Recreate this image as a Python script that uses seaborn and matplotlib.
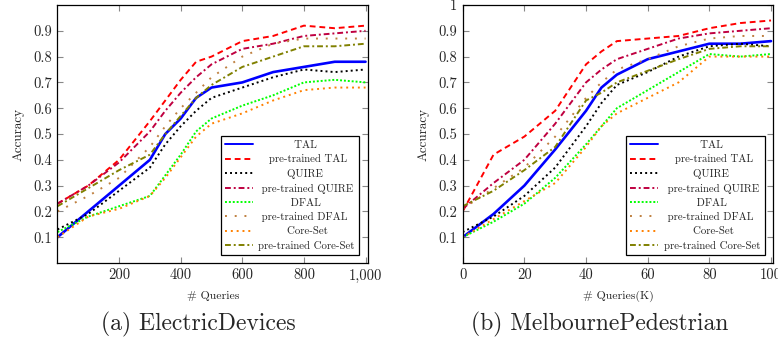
import numpy as np
import pandas as pd
import seaborn as sns
import matplotlib.pyplot as plt
from matplotlib.ticker import FuncFormatter

# ---------- data ----------
methods = ["TAL", "pre-trained TAL", "QUIRE", "pre-trained QUIRE",
           "DFAL", "pre-trained DFAL", "Core-Set", "pre-trained Core-Set"]

# (a) ElectricDevices
x_elec = [0, 100, 200, 300, 350, 400, 450, 500, 600, 700, 800, 900, 1000]
elec_tal = [0.10, 0.20, 0.30, 0.40, 0.50, 0.56, 0.64, 0.68, 0.70, 0.74, 0.76, 0.78, 0.78]
elec_pre_tal = [0.23, 0.30, 0.40, 0.55, 0.63, 0.71, 0.78, 0.80, 0.86, 0.88, 0.92, 0.91, 0.92]
elec_quire = [0.13, 0.19, 0.28, 0.37, 0.46, 0.53, 0.59, 0.64, 0.68, 0.72, 0.75, 0.74, 0.75]
elec_pre_quire = [0.23, 0.30, 0.39, 0.51, 0.59, 0.66, 0.72, 0.77, 0.83, 0.85, 0.88, 0.89, 0.90]
elec_dfal = [0.12, 0.18, 0.22, 0.26, 0.34, 0.42, 0.51, 0.56, 0.61, 0.65, 0.70, 0.71, 0.70]
elec_pre_dfal = [0.20, 0.26, 0.33, 0.45, 0.53, 0.60, 0.66, 0.72, 0.80, 0.85, 0.87, 0.87, 0.87]
elec_coreset = [0.10, 0.18, 0.21, 0.26, 0.33, 0.41, 0.49, 0.54, 0.58, 0.63, 0.67, 0.68, 0.68]
elec_pre_coreset = [0.22, 0.29, 0.36, 0.42, 0.50, 0.57, 0.64, 0.69, 0.76, 0.80, 0.84, 0.84, 0.85]

# (b) MelbournePedestrian
x_melb = [0, 10, 20, 30, 40, 45, 50, 60, 70, 80, 90, 100]
melb_tal = [0.10, 0.19, 0.30, 0.44, 0.59, 0.68, 0.73, 0.79, 0.82, 0.85, 0.85, 0.86]
melb_pre_tal = [0.20, 0.42, 0.49, 0.59, 0.77, 0.82, 0.86, 0.87, 0.88, 0.91, 0.93, 0.94]
melb_quire = [0.12, 0.18, 0.26, 0.37, 0.53, 0.62, 0.69, 0.74, 0.80, 0.84, 0.85, 0.84]
melb_pre_quire = [0.21, 0.31, 0.40, 0.54, 0.70, 0.75, 0.79, 0.83, 0.87, 0.89, 0.90, 0.91]
melb_dfal = [0.10, 0.16, 0.23, 0.33, 0.46, 0.53, 0.60, 0.67, 0.74, 0.81, 0.80, 0.81]
melb_pre_dfal = [0.21, 0.29, 0.37, 0.49, 0.64, 0.70, 0.75, 0.79, 0.84, 0.87, 0.88, 0.88]
melb_coreset = [0.10, 0.17, 0.24, 0.31, 0.45, 0.53, 0.58, 0.64, 0.70, 0.80, 0.80, 0.80]
melb_pre_coreset = [0.22, 0.28, 0.36, 0.45, 0.63, 0.66, 0.70, 0.745, 0.79, 0.83, 0.84, 0.84]

# ---------- style ----------
sns.set_style("ticks")
plt.rcParams["font.family"] = ["cmr10", "DejaVu Serif"]
plt.rcParams["axes.formatter.use_mathtext"] = True
plt.rcParams["axes.unicode_minus"] = False

palette = {
    "TAL": "#0000FF",
    "pre-trained TAL": "#FF0000",
    "QUIRE": "#000000",
    "pre-trained QUIRE": "#BF0040",
    "DFAL": "#00FF00",
    "pre-trained DFAL": "#BF8040",
    "Core-Set": "#FF8000",
    "pre-trained Core-Set": "#808000",
}
dashes = {
    "TAL": "",
    "pre-trained TAL": (3, 2),
    "QUIRE": (1, 1.6),
    "pre-trained QUIRE": (3, 1.5, 1, 1.5),
    "DFAL": (1, 1),
    "pre-trained DFAL": (1, 4),
    "Core-Set": (1, 2),
    "pre-trained Core-Set": (3, 1.5, 1, 1.5),
}
LEG_SIZE = 7.8


def to_long(x, series):
    rows = []
    for name, ys in zip(methods, series):
        for xv, yv in zip(x, ys):
            rows.append({"x": xv, "Accuracy": yv, "Method": name})
    return pd.DataFrame(rows)


def centred_labels(fig, labels):
    # pad labels with leading spaces so they sit centred in the legend column
    r = fig.canvas.get_renderer()
    def width(s):
        t = fig.text(0, 0, s, fontsize=LEG_SIZE)
        w = t.get_window_extent(r).width
        t.remove()
        return w
    ws = [width(s) for s in labels]
    sp = (width("a a") - width("aa"))
    wmax = max(ws)
    return [" " * int(round((wmax - w) / 2 / sp)) + s for s, w in zip(labels, ws)]


def draw_panel(ax, df, xlim, yticks, xticks, xfmt, xlabel):
    sns.lineplot(
        data=df, x="x", y="Accuracy", hue="Method", style="Method",
        palette=palette, dashes=dashes, hue_order=methods, style_order=methods,
        linewidth=1.4, ax=ax,
    )
    ax.lines[0].set_linewidth(1.9)

    ax.set_xlim(*xlim)
    ax.set_ylim(0, 1.0)
    ax.set_xticks(xticks)
    ax.set_yticks(yticks)
    ax.xaxis.set_major_formatter(FuncFormatter(xfmt))
    ax.yaxis.set_major_formatter(FuncFormatter(lambda v, p: f"{v:g}"))
    ax.tick_params(axis="both", direction="in", top=True, right=True,
                   length=4, width=0.8, color="#888888", labelsize=10.5, pad=4)
    for sp in ax.spines.values():
        sp.set_visible(True)
        sp.set_linewidth(0.9)
        sp.set_color("black")
    ax.set_xlabel(xlabel, fontsize=8.5, labelpad=6)
    ax.set_ylabel("Accuracy", fontsize=9.5, labelpad=6)

    handles, labels = ax.get_legend_handles_labels()
    ax.get_legend().remove()
    leg = ax.legend(
        handles, centred_labels(ax.figure, labels), loc="lower right",
        bbox_to_anchor=(0.972, 0.03), borderaxespad=0, fontsize=LEG_SIZE,
        frameon=True, fancybox=False, edgecolor="black", handlelength=2.6,
        labelspacing=0.42, borderpad=0.4, handletextpad=0.5,
    )
    leg.get_frame().set_linewidth(0.9)
    leg.get_frame().set_alpha(1)


fig = plt.figure(figsize=(7.78, 3.47), dpi=100)
ax_a = fig.add_axes([57.5 / 778, 84 / 347, 310.5 / 778, 258 / 347])
ax_b = fig.add_axes([462.7 / 778, 84 / 347, 310.5 / 778, 258 / 347])

df_a = to_long(x_elec, [elec_tal, elec_pre_tal, elec_quire, elec_pre_quire,
                        elec_dfal, elec_pre_dfal, elec_coreset, elec_pre_coreset])
df_b = to_long(x_melb, [melb_tal, melb_pre_tal, melb_quire, melb_pre_quire,
                        melb_dfal, melb_pre_dfal, melb_coreset, melb_pre_coreset])

draw_panel(ax_a, df_a, (0, 1008), np.arange(1, 10) / 10, [200, 400, 600, 800, 1000],
           lambda v, p: f"{v:,.0f}", "# Queries")
draw_panel(ax_b, df_b, (0, 100.7), np.arange(1, 11) / 10, [0, 20, 40, 60, 80, 100],
           lambda v, p: f"{v:.0f}", "# Queries(K)")

fig.text(198.5 / 778, 1 - 324 / 347, "(a) ElectricDevices", ha="center", va="center", fontsize=17)
fig.text(600 / 778, 1 - 324 / 347, "(b) MelbournePedestrian", ha="center", va="center", fontsize=17)

fig.savefig("out.png", dpi=100)
